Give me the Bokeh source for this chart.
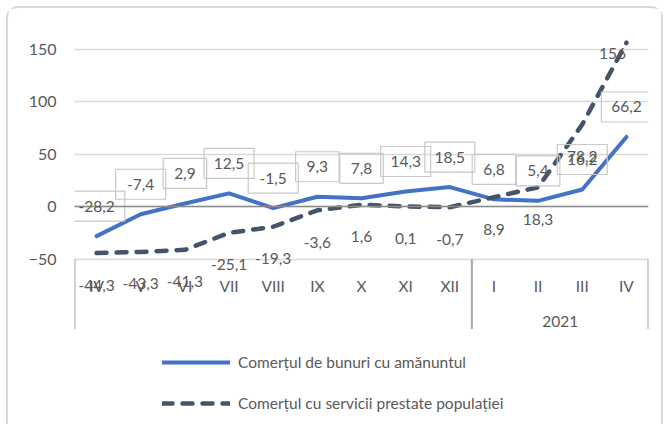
import numpy as np
from bokeh.plotting import figure
from bokeh.models import (ColumnDataSource, LabelSet, Range1d, FixedTicker, Span,
                          Legend, LegendItem)
from bokeh.core.properties import value
from bokeh.embed import file_html
from bokeh.resources import INLINE

# ---- data ----
months = ["IV", "V", "VI", "VII", "VIII", "IX", "X", "XI", "XII", "I", "II", "III", "IV"]
groups = ["", "2021"]
group_sizes = [9, 4]
retail = [-28.2, -7.4, 2.9, 12.5, -1.5, 9.3, 7.8, 14.3, 18.5, 6.8, 5.4, 16.2, 66.2]
services = [-44.3, -43.3, -41.3, -25.1, -19.3, -3.6, 1.6, 0.1, -0.7, 8.9, 18.3, 78.2, 156.0]
yticks = [-50, 0, 50, 100, 150]
series_names = ["Comerțul de bunuri cu amănuntul", "Comerțul cu servicii prestate populației"]

# ---- style ----
FONT = "Lato"
FS = "15.5px"
TXT = "#595959"
BLUE = "#4472C4"
SLATE = "#44546A"
PX_PER_UNIT = 1.05
W, H = 657, 418
ZERO_PX = 198  # canvas pixel row of y = 0

def fmt(v):
    s = ("%.1f" % v).replace(".", ",")
    if s.endswith(",0"):
        s = s[:-2]
    return s

n = len(months)
xs = np.arange(n)

p = figure(width=W, height=H, output_backend="svg", toolbar_location=None,
           x_axis_location=None, x_range=Range1d(-0.5, n - 0.5),
           y_range=Range1d(-(H - ZERO_PX) / PX_PER_UNIT, ZERO_PX / PX_PER_UNIT),
           min_border_left=66, min_border_right=W - 640, min_border_top=0, min_border_bottom=0)
p.outline_line_color = None
p.styles = {"margin-top": "6px", "margin-left": "6px",
            "border-top": "2px solid #d9d9d9", "border-left": "2px solid #d9d9d9",
            "border-right": "2px solid #d9d9d9",
            "border-top-left-radius": "12px", "border-top-right-radius": "12px"}

p.yaxis.ticker = FixedTicker(ticks=yticks)
p.yaxis.axis_line_color = None
p.yaxis.major_tick_line_color = None
p.yaxis.minor_tick_line_color = None
p.yaxis.major_tick_out = 0
p.yaxis.major_label_standoff = 18
p.yaxis.major_label_text_font = FONT
p.yaxis.major_label_text_font_size = "16px"
p.yaxis.major_label_text_color = TXT
p.ygrid.ticker = FixedTicker(ticks=yticks)
p.ygrid.grid_line_color = "#d9d9d9"
p.ygrid.grid_line_width = 1.5
p.xgrid.visible = False

axis_min = min(yticks)
p.add_layout(Span(location=0, dimension="width", line_color="#8c8c8c", line_width=1.5))

# category separators
edges = np.concatenate([[0], np.cumsum(group_sizes)]) - 0.5
sep_len = 70 / PX_PER_UNIT
p.segment(x0=edges, y0=[axis_min] * len(edges), x1=edges, y1=[axis_min - sep_len] * len(edges),
          line_color="#a6a6a6", line_width=2)

# category labels
cat_src = ColumnDataSource(dict(x=xs, y=[axis_min] * n, t=months))
p.add_layout(LabelSet(x="x", y="y", text="t", source=cat_src, y_offset=-27,
                      text_align="center", text_baseline="middle",
                      text_font=value(FONT), text_font_size=FS, text_color=TXT))
gcent = [(edges[i] + edges[i + 1]) / 2 for i in range(len(groups))]
grp_src = ColumnDataSource(dict(x=gcent, y=[axis_min] * len(groups), t=groups))
p.add_layout(LabelSet(x="x", y="y", text="t", source=grp_src, y_offset=-62,
                      text_align="center", text_baseline="middle",
                      text_font=value(FONT), text_font_size=FS, text_color=TXT))

# series
src = ColumnDataSource(dict(x=xs, r=retail, s=services,
                            rt=[fmt(v) for v in retail], st=[fmt(v) for v in services]))
r1 = p.line("x", "r", source=src, line_color=BLUE, line_width=4, line_join="round", line_cap="round")
r2 = p.line("x", "s", source=src, line_color=SLATE, line_width=4.5, line_dash="10 10",
            line_cap="round", line_join="round")

# retail labels in boxes (transparent)
box_off = 30
box_src = ColumnDataSource(dict(x=xs, y=[v + box_off / PX_PER_UNIT for v in retail],
                                w=[24 + 6.5 * len(fmt(v)) for v in retail]))
p.rect(x="x", y="y", width="w", height=30, width_units="screen", height_units="screen",
       source=box_src, fill_alpha=0, line_color="#c8c8c8", line_width=1.2)
p.add_layout(LabelSet(x="x", y="r", text="rt", source=src, y_offset=box_off,
                      text_align="center", text_baseline="middle",
                      text_font=value(FONT), text_font_size=FS, text_color=TXT))

# services labels below the points (last one nudged as in the original)
s_off_y = [-32] * (n - 1) + [-11]
s_off_x = [0] * (n - 1) + [-14]
lab_src = ColumnDataSource(dict(x=xs, y=services, t=[fmt(v) for v in services],
                                ox=s_off_x, oy=s_off_y))
p.add_layout(LabelSet(x="x", y="y", text="t", source=lab_src, x_offset="ox", y_offset="oy",
                      text_align="center", text_baseline="middle",
                      text_font=value(FONT), text_font_size=FS, text_color=TXT))

legend = Legend(items=[LegendItem(label=series_names[0], renderers=[r1]),
                       LegendItem(label=series_names[1], renderers=[r2])],
                location=(88, 7 + (H - 412)), glyph_width=68, glyph_height=20, label_height=20,
                label_standoff=8, spacing=21, padding=0, margin=0,
                border_line_color=None, background_fill_alpha=0,
                label_text_font=FONT, label_text_font_size=FS, label_text_color=TXT)
p.add_layout(legend)

open("out.html", "w").write(file_html(p, INLINE))
